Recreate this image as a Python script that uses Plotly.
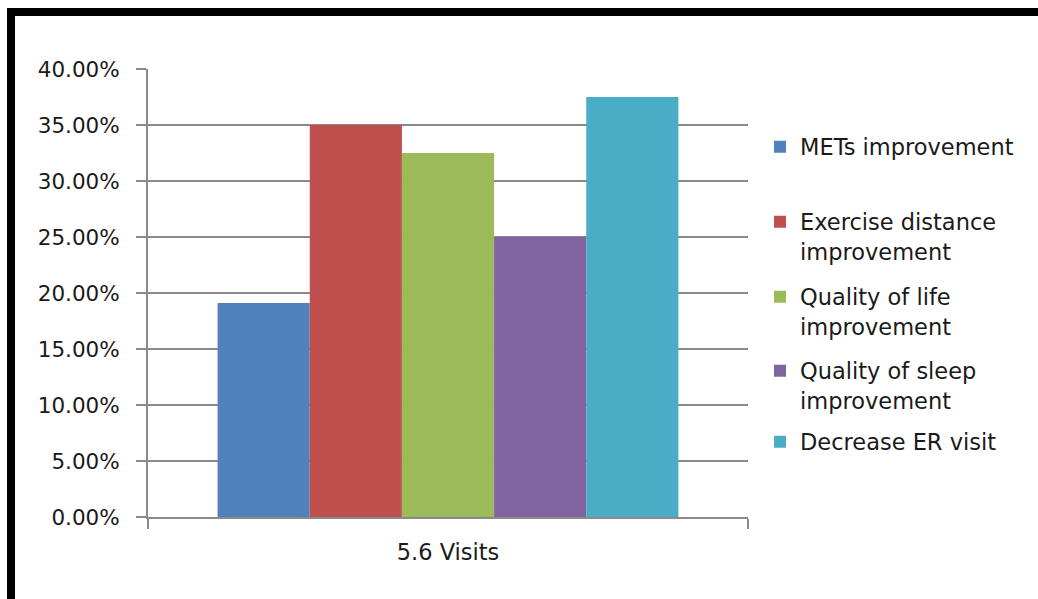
import plotly.graph_objects as go

categories = ["5.6 Visits"]
series_names = [
    "METs improvement",
    "Exercise distance<br>improvement",
    "Quality of life<br>improvement",
    "Quality of sleep<br>improvement",
    "Decrease ER visit",
]
series_values = [0.191, 0.35, 0.325, 0.25, 0.375]
series_colors = ["#4F81BD", "#C0504D", "#9BBB59", "#8064A2", "#4BACC6"]
y_ticks = [0, 0.05, 0.10, 0.15, 0.20, 0.25, 0.30, 0.35, 0.40]

W, H = 1038, 599
L, R, T, B = 148, 748, 69, 517  # plot area pixel box


def px_x(p):
    return (p - L) / (R - L)


def px_y(p):
    return (B - p) / (B - T)


legend_centers = [147, 236.5, 311.5, 385.5, 442]
legend_keys = ["legend", "legend2", "legend3", "legend4", "legend5"]
FONT = "DejaVu Sans"
TXT = "#1a1a1a"
GRID = "#8a8a8a"

fig = go.Figure()
for name, val, col, lk in zip(series_names, series_values, series_colors, legend_keys):
    fig.add_trace(go.Bar(x=categories, y=[val], name=name, marker_color=col,
                         marker_line_width=0, legend=lk))

layout_legends = {}
for lk, cy in zip(legend_keys, legend_centers):
    layout_legends[lk] = dict(
        x=px_x(760), y=px_y(cy), xanchor="left", yanchor="middle",
        xref="paper", yref="paper",
        font=dict(family=FONT, size=22.5, color=TXT),
        bgcolor="rgba(0,0,0,0)", borderwidth=0, itemclick=False,
        tracegroupgap=0, valign="top",
    )

fig.update_layout(
    width=W, height=H,
    margin=dict(l=L, r=W - R, t=T, b=H - B, pad=0),
    paper_bgcolor="white", plot_bgcolor="white",
    barmode="group", bargap=0.232, bargroupgap=0,
    showlegend=True,
    font=dict(family=FONT, color=TXT),
    xaxis=dict(
        type="category", tickson="boundaries", ticks="outside", ticklen=10,
        tickcolor=GRID, tickwidth=2, showline=True, linecolor=GRID, linewidth=2,
        showgrid=False, tickfont=dict(family=FONT, size=22.5, color=TXT),
        ticklabelstandoff=14,
    ),
    yaxis=dict(
        range=[0, 0.40], tickvals=y_ticks, tickformat=".2%",
        ticks="outside", ticklen=10, tickcolor=GRID, tickwidth=2,
        showline=True, linecolor=GRID, linewidth=2,
        showgrid=True, gridcolor=GRID, gridwidth=1.5, zeroline=False,
        tickfont=dict(family=FONT, size=21.5, color=TXT),
        ticklabelstandoff=12,
    ),
    shapes=[dict(type="rect", xref="paper", yref="paper",
                 x0=px_x(11), x1=px_x(1200), y0=px_y(800), y1=px_y(12),
                 line=dict(color="black", width=8), fillcolor="rgba(0,0,0,0)",
                 layer="above")],
    **layout_legends,
)

fig.write_html("out.html")
